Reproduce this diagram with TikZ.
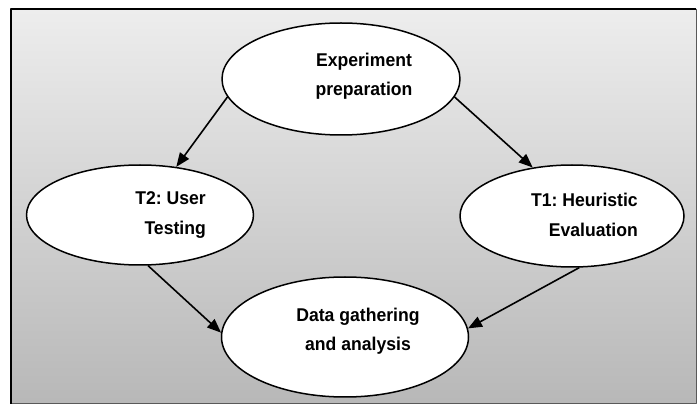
\documentclass[tikz,border=0pt]{standalone}
\usepackage{fontspec}
\setmainfont{Liberation Sans}
\usetikzlibrary{shapes.geometric,arrows.meta}

\begin{document}
\begin{tikzpicture}[x=1pt, y=-1pt, line join=round,
    oval/.style={ellipse, draw, fill=white, line width=1.5pt, inner sep=0pt},
    lbl/.style={font=\fontsize{17.6}{28}\selectfont\bfseries\frenchspacing,
        inner sep=0pt, yscale=1.05},
    link/.style={line width=1.6pt, -{Triangle[length=14pt,width=11pt]}}]

    % 枠と背景
    \useasboundingbox (0,0) rectangle (697,406);
    \shade[top color=gray!14, bottom color=gray!56] (11,9) rectangle (696,404);
    \draw[gray!70!black, line width=1pt] (696,9) -- (696,404) -- (11,404);
    \draw[line width=2.2pt] (11,404) -- (11,9) -- (696,9);

    % 楕円
    \node[oval, minimum width=238pt, minimum height=112pt] (prep) at (341,79) {};
    \node[oval, minimum width=227pt, minimum height=100pt] (user) at (140,215) {};
    \node[oval, minimum width=224pt, minimum height=102pt] (heur) at (572,216) {};
    \node[oval, minimum width=247pt, minimum height=120pt] (data) at (345,337) {};

    % 文字
    \node[lbl, align=center] (prept) at (364,76) {Experiment\\preparation};
    \node[lbl, align=right, anchor=east] (usert) at (206,215) {T2: User\\Testing};
    \node[lbl, align=right, anchor=east] (heurt) at (638,215) {T1: Heuristic\\Evaluation};
    \node[lbl, align=center] (datat) at (358,331) {Data gathering\\and analysis};

    % 矢印
    \draw[link] (prep.189) -- (user.53);
    \draw[link] (prep.351) -- (heur.129);
    \draw[link] (user.279) -- (data.178);
    \draw[link] (heur.278) -- (data.4);

\end{tikzpicture}
\end{document}
